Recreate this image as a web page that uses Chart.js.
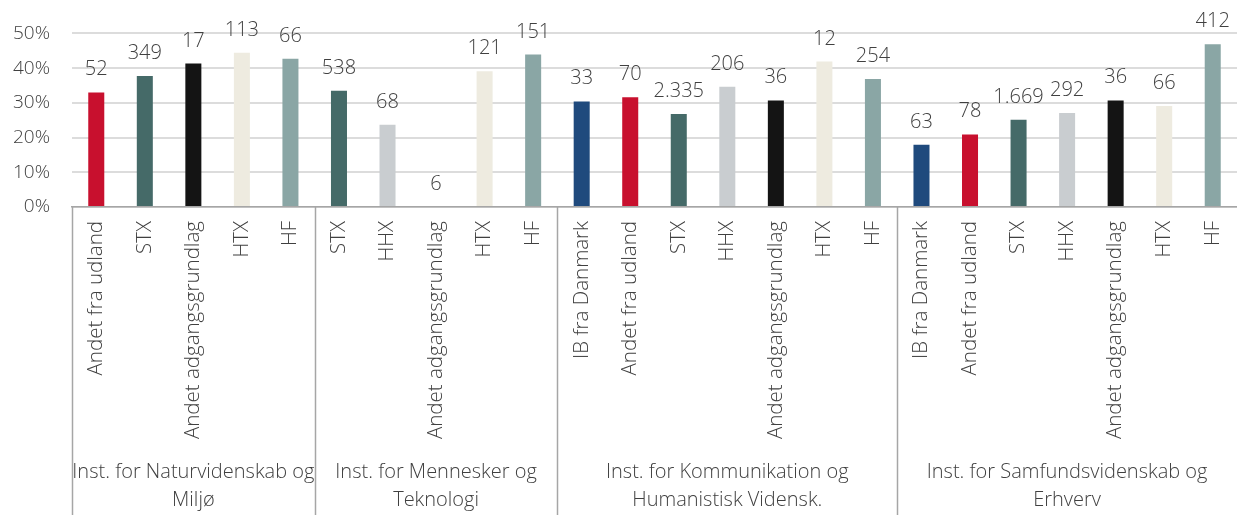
<!DOCTYPE html>
<html lang="da">
<head>
<meta charset="utf-8">
<title>Andel pr. adgangsgrundlag</title>
<script src="https://cdn.jsdelivr.net/npm/chart.js@4.4.1/dist/chart.umd.min.js"></script>
<style>
  html, body { margin: 0; padding: 0; background: #fff; }
  #wrap { width: 1237px; height: 515px; position: relative; }
</style>
</head>
<body>
<div id="wrap"><canvas id="chart"></canvas></div>
<script>
// adgangsgrundlag per bar, grouped by institute
const categories = [
  'Andet fra udland', 'STX', 'Andet adgangsgrundlag', 'HTX', 'HF',
  'STX', 'HHX', 'Andet adgangsgrundlag', 'HTX', 'HF',
  'IB fra Danmark', 'Andet fra udland', 'STX', 'HHX', 'Andet adgangsgrundlag', 'HTX', 'HF',
  'IB fra Danmark', 'Andet fra udland', 'STX', 'HHX', 'Andet adgangsgrundlag', 'HTX', 'HF'
];

const groupNames = [
  ['Inst. for Naturvidenskab og', 'Miljø'],
  ['Inst. for Mennesker og', 'Teknologi'],
  ['Inst. for Kommunikation og', 'Humanistisk Vidensk.'],
  ['Inst. for Samfundsvidenskab og', 'Erhverv']
];
const groupSizes = [5, 5, 7, 7];

// share in percent
const shares = [
  33.0, 37.7, 41.3, 44.4, 42.7,
  33.5, 23.7, 0, 39.1, 43.9,
  30.4, 31.6, 26.8, 34.6, 30.7, 41.9, 36.9,
  17.9, 20.9, 25.1, 27.1, 30.7, 29.1, 46.9
];

// number of students behind each bar
const counts = [
  52, 349, 17, 113, 66,
  538, 68, 6, 121, 151,
  33, 70, 2335, 206, 36, 12, 254,
  63, 78, 1669, 292, 36, 66, 412
];

const yTicks = [0, 10, 20, 30, 40, 50];

const typeColors = {
  'Andet fra udland': '#c8102e',
  'STX': '#456a68',
  'Andet adgangsgrundlag': '#141414',
  'HTX': '#eeebe0',
  'HF': '#8aa6a5',
  'HHX': '#c9cdd0',
  'IB fra Danmark': '#1f4a7d'
};

const FONT = "'Open Sans', 'Segoe UI', sans-serif";
const TEXT = '#404040';

function formatCount(n) {
  return String(n).replace(/\B(?=(\d{3})+(?!\d))/g, '.');
}

const countLabels = {
  id: 'countLabels',
  afterDatasetsDraw(chart) {
    const ctx = chart.ctx;
    const meta = chart.getDatasetMeta(0);
    ctx.save();
    ctx.font = '300 20px ' + FONT;
    ctx.fillStyle = TEXT;
    ctx.textAlign = 'center';
    ctx.textBaseline = 'alphabetic';
    meta.data.forEach((bar, i) => {
      ctx.fillText(formatCount(counts[i]), bar.x, bar.y - 17);
    });
    ctx.restore();
  }
};

const groupAxis = {
  id: 'groupAxis',
  afterDraw(chart) {
    const ctx = chart.ctx;
    const x = chart.scales.x;
    const area = chart.chartArea;
    const bottom = chart.height;
    ctx.save();
    ctx.strokeStyle = '#a6a6a6';
    ctx.lineWidth = 1.5;

    let start = 0;
    const edges = [area.left];
    groupSizes.forEach(size => {
      const end = start + size;
      const right = end < categories.length
        ? (x.getPixelForValue(end - 1) + x.getPixelForValue(end)) / 2
        : null;
      edges.push(right);
      start = end;
    });

    edges.forEach(px => {
      if (px === null) return;
      ctx.beginPath();
      ctx.moveTo(Math.round(px) + 0.5, area.bottom);
      ctx.lineTo(Math.round(px) + 0.5, bottom);
      ctx.stroke();
    });

    ctx.font = '300 20px ' + FONT;
    ctx.fillStyle = TEXT;
    ctx.textAlign = 'center';
    ctx.textBaseline = 'middle';
    groupNames.forEach((lines, g) => {
      const l = edges[g];
      const r = edges[g + 1] === null ? area.right : edges[g + 1];
      const cx = (l + r) / 2;
      lines.forEach((line, k) => {
        ctx.fillText(line, cx, bottom - 43 + k * 28);
      });
    });
    ctx.restore();
  }
};

new Chart(document.getElementById('chart'), {
  type: 'bar',
  data: {
    labels: categories,
    datasets: [{
      data: shares,
      backgroundColor: categories.map(c => typeColors[c]),
      borderWidth: 0,
      barPercentage: 0.33,
      categoryPercentage: 1
    }]
  },
  options: {
    responsive: true,
    maintainAspectRatio: false,
    animation: false,
    layout: { autoPadding: false, padding: { top: 28, right: 0, bottom: 0, left: 0 } },
    plugins: {
      legend: { display: false },
      tooltip: { enabled: false }
    },
    scales: {
      x: {
        grid: { display: false, drawTicks: false },
        border: { display: true, color: '#a6a6a6', width: 1.5 },
        ticks: {
          autoSkip: false,
          minRotation: 90,
          maxRotation: 90,
          padding: 14,
          color: TEXT,
          font: { family: FONT, size: 20.5, weight: '300' }
        },
        afterFit(scale) {
          scale.height = 308;
          scale.paddingLeft = 0;
          scale.paddingRight = 0;
        }
      },
      y: {
        min: 0,
        max: 50,
        afterBuildTicks(scale) {
          scale.ticks = yTicks.map(v => ({ value: v }));
        },
        grid: { color: '#dcdcdc', lineWidth: 2, drawTicks: false },
        border: { display: false },
        ticks: {
          padding: 22,
          color: TEXT,
          font: { family: FONT, size: 19, weight: '300' },
          callback: v => v + '%'
        },
        afterFit(scale) { scale.width = 72; }
      }
    }
  },
  plugins: [countLabels, groupAxis]
});
</script>
</body>
</html>
